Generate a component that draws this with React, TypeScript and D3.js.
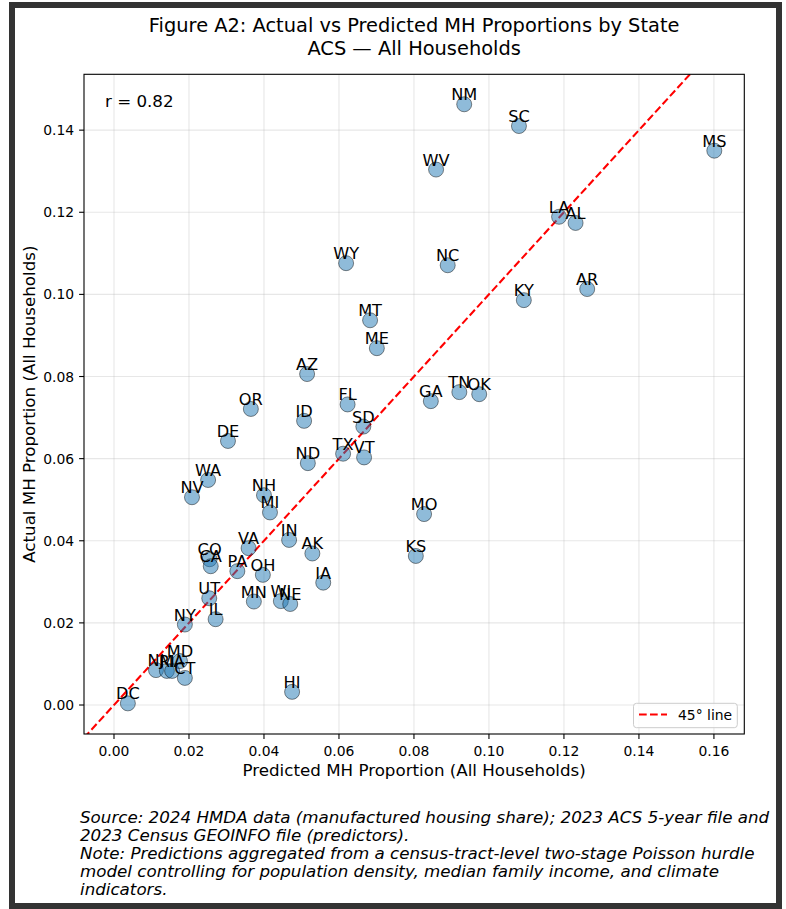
import React from "react";
import * as d3 from "d3";

const states = ["NM","SC","MS","WV","LA","AL","NC","AR","KY","WY","MT","ME","AZ","OR","DE","ID","FL","SD","ND","TX","VT","GA","TN","OK","WA","NV","NH","MI","MO","IN","AK","VA","KS","CO","CA","PA","OH","IA","UT","MN","WI","NE","IL","NY","HI","DC","NJ","RI","MA","MD","CT"];
const predicted = [0.0934,0.1080,0.1601,0.0859,0.1187,0.1231,0.0890,0.1262,0.1093,0.0619,0.0683,0.0701,0.0515,0.0365,0.0304,0.0507,0.0623,0.0665,0.0517,0.0611,0.0667,0.0845,0.0921,0.0974,0.0251,0.0208,0.0400,0.0416,0.0827,0.0467,0.0529,0.0359,0.0805,0.0255,0.0258,0.0329,0.0397,0.0558,0.0254,0.0373,0.0445,0.0470,0.0271,0.0189,0.0475,0.0037,0.0112,0.0141,0.0155,0.0176,0.0189];
const actual = [0.1463,0.1410,0.1350,0.1304,0.1189,0.1174,0.1071,0.1013,0.0986,0.1076,0.0937,0.0869,0.0806,0.0721,0.0643,0.0692,0.0732,0.0678,0.0589,0.0612,0.0603,0.0740,0.0762,0.0757,0.0548,0.0506,0.0511,0.0469,0.0465,0.0402,0.0369,0.0382,0.0363,0.0355,0.0338,0.0326,0.0317,0.0298,0.0260,0.0252,0.0253,0.0246,0.0209,0.0196,0.0032,0.0004,0.0085,0.0083,0.0083,0.0107,0.0066];
const xTicks = [0, 0.02, 0.04, 0.06, 0.08, 0.10, 0.12, 0.14, 0.16];
const yTicks = [0, 0.02, 0.04, 0.06, 0.08, 0.10, 0.12, 0.14];
const titleLines = ["Figure A2: Actual vs Predicted MH Proportions by State", "ACS \u2014 All Households"];
const footerLines = [
  "Source: 2024 HMDA data (manufactured housing share); 2023 ACS 5-year file and",
  "2023 Census GEOINFO file (predictors).",
  "Note: Predictions aggregated from a census-tract-level two-stage Poisson hurdle",
  "model controlling for population density, median family income, and climate",
  "indicators.",
];
const rText = "r = 0.82";
const xDomain = [-0.008, 0.1681];
const yDomain = [-0.00706, 0.1536];

const W = 786, H = 909;
const L = 84, R = 744.3, T = 74.3, B = 734;
const FONT = "DejaVu Sans, sans-serif";

export default function App() {
  const x = d3.scaleLinear().domain(xDomain).range([L, R]);
  const y = d3.scaleLinear().domain(yDomain).range([B, T]);
  const lo = Math.min(xDomain[0], yDomain[0]);
  const hi = Math.max(xDomain[1], yDomain[1]);
  const line = d3.line<number>().x((d) => x(d)).y((d) => y(d));
  const fmt = d3.format(".2f");
  return (
    <svg width={W} height={H} style={{ position: "absolute", left: 0, top: 0, background: "#fff" }} fontFamily={FONT}>
      <rect x={0} y={0} width={W} height={H} fill="#fff" />
      <rect x={12} y={5} width={767} height={901} fill="none" stroke="#333" strokeWidth={6} />
      <defs>
        <clipPath id="plot">
          <rect x={L} y={T} width={R - L} height={B - T} />
        </clipPath>
      </defs>
      {titleLines.map((t, i) => (
        <text key={i} x={(L + R) / 2} y={32 + i * 23} textAnchor="middle" fontSize={19.4} fill="#000">{t}</text>
      ))}
      {/* grid */}
      {xTicks.map((t) => (
        <line key={"gx" + t} x1={x(t)} x2={x(t)} y1={T} y2={B} stroke="#b0b0b0" strokeOpacity={0.3} strokeWidth={1.1} />
      ))}
      {yTicks.map((t) => (
        <line key={"gy" + t} x1={L} x2={R} y1={y(t)} y2={y(t)} stroke="#b0b0b0" strokeOpacity={0.3} strokeWidth={1.1} />
      ))}
      {/* 45 line */}
      <path d={line([lo, hi]) || ""} clipPath="url(#plot)" stroke="#ff0000" strokeWidth={2.08} strokeDasharray="7.7,3.3" fill="none" />
      {/* points */}
      <g clipPath="url(#plot)">
        {states.map((s, i) => (
          <circle key={s} cx={x(predicted[i])} cy={y(actual[i])} r={7.5} fill="#1f77b4" fillOpacity={0.5} stroke="#000" strokeOpacity={0.45} strokeWidth={1} />
        ))}
      </g>
      {states.map((s, i) => (
        <text key={"l" + s} x={x(predicted[i])} y={y(actual[i]) - 4} textAnchor="middle" fontSize={16.2} fill="#000">{s}</text>
      ))}
      {/* spines */}
      <rect x={L} y={T} width={R - L} height={B - T} fill="none" stroke="#000" strokeWidth={1.1} />
      {/* ticks */}
      {xTicks.map((t) => (
        <g key={"tx" + t}>
          <line x1={x(t)} x2={x(t)} y1={B} y2={B + 4.9} stroke="#000" strokeWidth={1.1} />
          <text x={x(t)} y={B + 22} textAnchor="middle" fontSize={13.9} fill="#000">{fmt(t)}</text>
        </g>
      ))}
      {yTicks.map((t) => (
        <g key={"ty" + t}>
          <line x1={L - 4.9} x2={L} y1={y(t)} y2={y(t)} stroke="#000" strokeWidth={1.1} />
          <text x={L - 9.8} y={y(t)} dy="0.36em" textAnchor="end" fontSize={13.9} fill="#000">{fmt(t)}</text>
        </g>
      ))}
      <text x={(L + R) / 2} y={776} textAnchor="middle" fontSize={16.7} fill="#000">Predicted MH Proportion (All Households)</text>
      <text transform={`translate(35,${(T + B) / 2}) rotate(-90)`} textAnchor="middle" fontSize={16.7} fill="#000">Actual MH Proportion (All Households)</text>
      <text x={105} y={107} fontSize={16.7} fill="#000">{rText}</text>
      {/* legend */}
      <rect x={633.5} y={703.3} width={103.8} height={24.4} rx={3} fill="#fff" fillOpacity={0.8} stroke="#cccccc" strokeWidth={1} />
      <line x1={639} x2={667} y1={714.5} y2={714.5} stroke="#ff0000" strokeWidth={2.08} strokeDasharray="7.7,3.3" />
      <text x={678} y={719.5} fontSize={13.9} fill="#000">45° line</text>
      {/* footer */}
      {footerLines.map((t, i) => (
        <text key={"f" + i} x={80} y={823 + i * 18} fontSize={16.7} fontStyle="italic" fill="#000">{t}</text>
      ))}
    </svg>
  );
}
